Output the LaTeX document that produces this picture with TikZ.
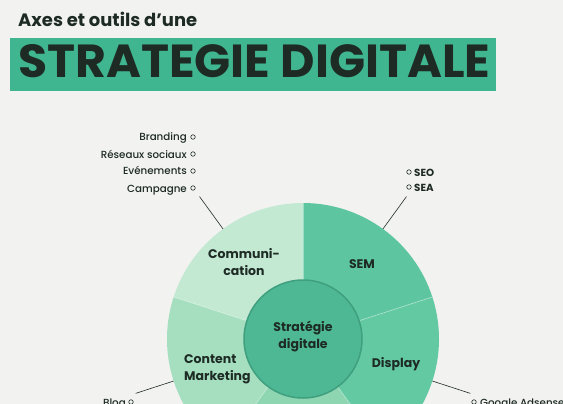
\documentclass[tikz,border=0pt]{standalone}
\usepackage{fontspec}
\setmainfont{Poppins}
\newfontfamily\pmed{Poppins Medium}
\usepackage{graphicx}
\definecolor{bg}{HTML}{F2F2F1}
\definecolor{banner}{HTML}{40B690}
\definecolor{comm}{HTML}{C3E9D3}
\definecolor{sem}{HTML}{5DC6A1}
\definecolor{content}{HTML}{A5DFBF}
\definecolor{display}{HTML}{62C9A3}
\definecolor{bottomseg}{HTML}{8ED5B2}
\definecolor{inner}{HTML}{4DB893}
\definecolor{rim}{HTML}{3F9F7E}
\definecolor{ink}{HTML}{1E2B25}
\tikzset{
  seglabel/.style={text=ink, font=\fontsize{12.5}{17}\selectfont\bfseries, align=center, inner sep=0pt},
  leaflabel/.style={text=ink, font=\pmed\fontsize{10.3}{12}\selectfont, inner sep=0pt},
  leafbold/.style={text=ink, font=\fontsize{10.3}{12}\selectfont\bfseries, inner sep=0pt},
  dot/.style={circle, draw=ink, line width=0.6pt, minimum size=4.5pt, inner sep=0pt, fill=bg},
  conn/.style={draw=ink, line width=0.6pt},
  sep/.style={draw=white, draw opacity=0.35, line width=0.8pt}
}
\begin{document}
\begin{tikzpicture}[x=1pt, y=-1pt]
\useasboundingbox (0,0) rectangle (563,404);
\clip (0,0) rectangle (563,404);
\fill[bg] (0,0) rectangle (563,404);
% header
\node[anchor=base west, inner sep=0pt, text=ink] (sub) at (18,27)
  {\resizebox{179pt}{!}{\bfseries Axes et outils d’une}};
\fill[banner] (10,38) rectangle (496,91);
\node[anchor=south west, inner sep=0pt, text=ink] (title) at (18,78)
  {\resizebox{472pt}{33pt}{\bfseries STRATEGIE DIGITALE}};
% wheel
\coordinate (c) at (303,339);
\fill[sem]       (c) -- +(-90:136)  arc[start angle=-90,  end angle=-18,  radius=136] -- cycle;
\fill[comm]      (c) -- +(-90:136)  arc[start angle=-90,  end angle=-162, radius=136] -- cycle;
\fill[content]   (c) -- +(-162:136) arc[start angle=-162, end angle=-234, radius=136] -- cycle;
\fill[bottomseg] (c) -- +(-234:136) arc[start angle=-234, end angle=-306, radius=136] -- cycle;
\fill[display]   (c) -- +(-306:136) arc[start angle=-306, end angle=-378, radius=136] -- cycle;
\foreach \a in {-90,-18,-162,-234,-306} \draw[sep] (c) -- +(\a:136);
\node[circle, fill=inner, draw=rim, line width=1.5pt, minimum size=118pt, inner sep=0pt] (core) at (c) {};
\node[seglabel] (corelabel) at (303,337) {Stratégie\\digitale};
\node[seglabel] (lcomm) at (244,262) {Communi-\\cation};
\node[seglabel] (lsem) at (362,264) {SEM};
\node[seglabel, align=left, anchor=west] (lcontent) at (184,369) {Content\\Marketing};
\node[seglabel] (ldisplay) at (396,364) {Display};
% connectors
\coordinate (e1) at ([shift={(-126:136)}]c);
\coordinate (s1) at ([shift={(-126:176)}]c);
\coordinate (e2) at ([shift={(-54:136)}]c);
\coordinate (s2) at ([shift={(-54:176)}]c);
\coordinate (e3) at ([shift={(-198:136)}]c);
\coordinate (s3) at ([shift={(-198:176)}]c);
\coordinate (e4) at ([shift={(18:136)}]c);
\coordinate (s4) at ([shift={(18:176)}]c);
\draw[conn] (s1) -- (e1);
\draw[conn] (s2) -- (e2);
\draw[conn] (s3) -- (e3);
\draw[conn] (s4) -- (e4);
% communication leaves
\node[dot] (d1) at (193,137) {};
\node[dot] (d2) at (193,154) {};
\node[dot] (d3) at (193,171) {};
\node[dot] (d4) at (193,188) {};
\node[leaflabel, anchor=base east] (t1) at (187,141) {Branding};
\node[leaflabel, anchor=base east] (t2) at (187,158) {Réseaux sociaux};
\node[leaflabel, anchor=base east] (t3) at (187,175) {Evénements};
\node[leaflabel, anchor=base east] (t4) at (187,192) {Campagne};
% SEM leaves
\node[dot] (d5) at (409,172) {};
\node[dot] (d6) at (409,187) {};
\node[leafbold, anchor=base west] (t5) at (414,176) {SEO};
\node[leafbold, anchor=base west] (t6) at (414,191) {SEA};
% content leaf
\node[dot] (d7) at (131,402) {};
\node[leaflabel, anchor=base east] (t7) at (126,406) {Blog};
% display leaf
\node[dot] (d8) at (474,402) {};
\node[leaflabel, anchor=base west] (t8) at (480,406) {Google Adsense};
\end{tikzpicture}
\end{document}
